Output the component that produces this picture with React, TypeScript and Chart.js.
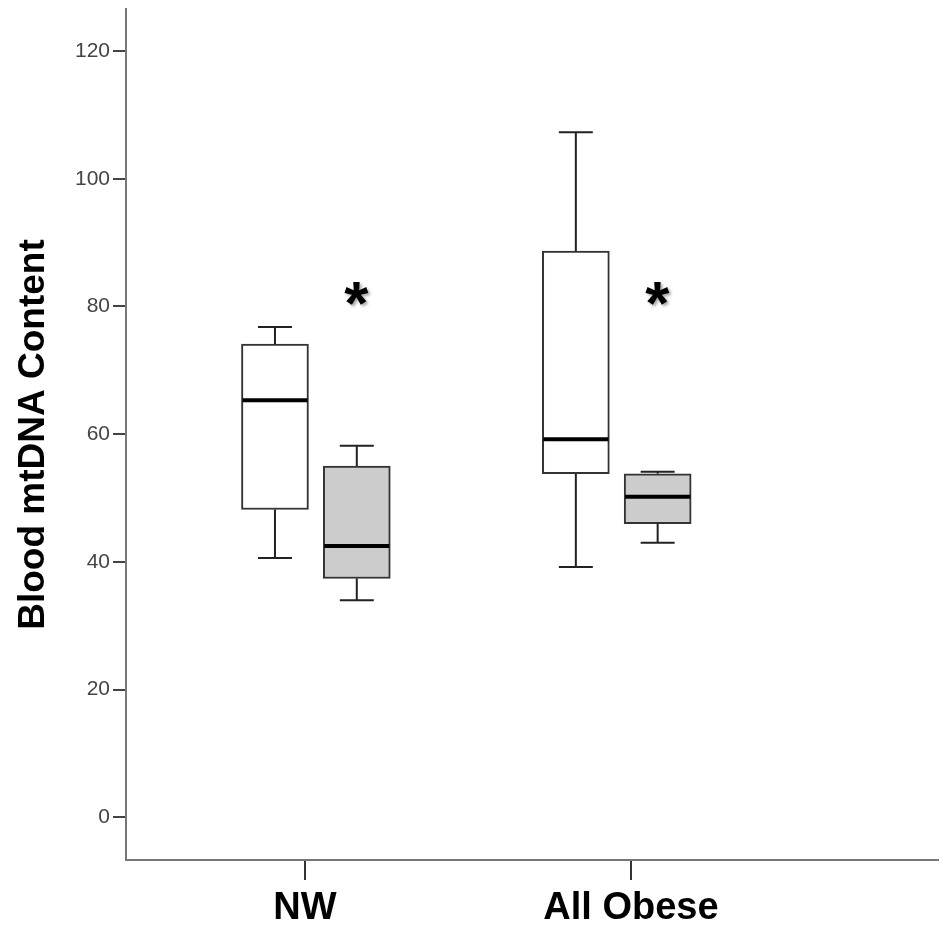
import React, { useEffect, useRef } from "react";
import { Chart, registerables } from "chart.js";

Chart.register(...registerables);

// ---- data ----
const categories = ["NW", "All Obese"];
const yTickValues = [0, 20, 40, 60, 80, 100, 120];

// first group (white boxes)
const whiteMin = [40.6, 39.2];
const whiteQ1 = [48.2, 53.8];
const whiteMedian = [65.3, 59.2];
const whiteQ3 = [74.1, 88.7];
const whiteMax = [76.8, 107.3];

// second group (grey boxes)
const greyMin = [34.0, 43.0];
const greyQ1 = [37.4, 46.0];
const greyMedian = [42.5, 50.2];
const greyQ3 = [55.0, 53.8];
const greyMax = [58.2, 54.1];

// significance markers above grey boxes
const starValue = [82.1, 82.1];

// ---- layout (positions, not data) ----
const categoryPos = [1, 2];
const whiteOffset = [-0.092, -0.169];
const greyOffset = [0.159, 0.082];
const X_MIN = 0.451;
const X_MAX = 2.942;
const Y_MIN = -6.7;
const Y_MAX = 126.6;
const BOX_PX = 67;
const CAP_PX = 34;
const FONT = "'Liberation Sans', Arial, Helvetica, sans-serif";

type Stats = { min: number[]; q1: number[]; med: number[]; q3: number[]; max: number[]; offs: number[] };
const groups: Stats[] = [
  { min: whiteMin, q1: whiteQ1, med: whiteMedian, q3: whiteQ3, max: whiteMax, offs: whiteOffset },
  { min: greyMin, q1: greyQ1, med: greyMedian, q3: greyQ3, max: greyMax, offs: greyOffset },
];

const boxPlugin = {
  id: "boxExtras",
  afterDatasetsDraw(chart: any) {
    const ctx = chart.ctx;
    const xs = chart.scales.x;
    const ys = chart.scales.y;
    ctx.save();
    groups.forEach((g, gi) => {
      categories.forEach((_c, i) => {
        const cx = xs.getPixelForValue(categoryPos[i] + g.offs[i]);
        const yMin = ys.getPixelForValue(g.min[i]);
        const yMax = ys.getPixelForValue(g.max[i]);
        const yQ1 = ys.getPixelForValue(g.q1[i]);
        const yQ3 = ys.getPixelForValue(g.q3[i]);
        const yMed = ys.getPixelForValue(g.med[i]);
        ctx.strokeStyle = "#222";
        ctx.lineWidth = 2;
        ctx.beginPath();
        ctx.moveTo(cx, yQ3);
        ctx.lineTo(cx, yMax);
        ctx.moveTo(cx - CAP_PX / 2, yMax);
        ctx.lineTo(cx + CAP_PX / 2, yMax);
        ctx.moveTo(cx, yQ1);
        ctx.lineTo(cx, yMin);
        ctx.moveTo(cx - CAP_PX / 2, yMin);
        ctx.lineTo(cx + CAP_PX / 2, yMin);
        ctx.stroke();
        ctx.strokeStyle = "#000";
        ctx.lineWidth = 4;
        ctx.beginPath();
        ctx.moveTo(cx - BOX_PX / 2 + 1, yMed);
        ctx.lineTo(cx + BOX_PX / 2 - 1, yMed);
        ctx.stroke();
        if (gi === 1) {
          const sy = ys.getPixelForValue(starValue[i]);
          ctx.font = `bold 62px ${FONT}`;
          const m = ctx.measureText("*");
          const w = m.actualBoundingBoxLeft + m.actualBoundingBoxRight;
          const h = m.actualBoundingBoxAscent + m.actualBoundingBoxDescent;
          ctx.textAlign = "left";
          ctx.textBaseline = "alphabetic";
          ctx.fillStyle = "#000";
          ctx.shadowColor = "rgba(0,0,0,0.35)";
          ctx.shadowBlur = 3;
          ctx.shadowOffsetX = 2;
          ctx.shadowOffsetY = 2;
          ctx.fillText("*", cx - w / 2 + m.actualBoundingBoxLeft, sy - h / 2 + m.actualBoundingBoxAscent);
          ctx.shadowColor = "transparent";
          ctx.shadowBlur = 0;
          ctx.shadowOffsetX = 0;
          ctx.shadowOffsetY = 0;
        }
      });
    });
    ctx.restore();
  },
};

export default function App() {
  const ref = useRef<HTMLCanvasElement | null>(null);
  useEffect(() => {
    if (!ref.current) return;
    const chart = new Chart(ref.current, {
      type: "bar",
      data: {
        datasets: [
          {
            label: "white",
            data: categories.map((_c, i) => ({ x: categoryPos[i] + whiteOffset[i], y: [whiteQ1[i], whiteQ3[i]] })) as any,
            backgroundColor: "#ffffff",
            borderColor: "#333333",
            borderWidth: 2,
            borderSkipped: false,
            barThickness: BOX_PX,
            grouped: false,
          } as any,
          {
            label: "grey",
            data: categories.map((_c, i) => ({ x: categoryPos[i] + greyOffset[i], y: [greyQ1[i], greyQ3[i]] })) as any,
            backgroundColor: "#cccccc",
            borderColor: "#333333",
            borderWidth: 2,
            borderSkipped: false,
            barThickness: BOX_PX,
            grouped: false,
          } as any,
        ],
      },
      options: {
        animation: false,
        responsive: false,
        devicePixelRatio: 1,
        layout: { padding: { top: 9, right: 7, left: 0, bottom: 0 } },
        plugins: { legend: { display: false }, tooltip: { enabled: false } },
        scales: {
          x: {
            type: "linear",
            offset: false,
            min: X_MIN,
            max: X_MAX,
            afterBuildTicks: (s: any) => {
              s.ticks = categoryPos.map((v) => ({ value: v }));
            },
            afterFit: (s: any) => {
              s.height = 78;
              s.paddingLeft = 0;
              s.paddingRight = 0;
            },
            ticks: {
              autoSkip: false,
              maxRotation: 0,
              padding: 6,
              color: "#000",
              font: { family: FONT, size: 38, weight: "bold" },
              callback: (_v: any, i: number) => categories[i],
            },
            grid: { offset: false, drawOnChartArea: false, drawTicks: true, tickLength: 20, color: "#333", lineWidth: 2 },
            border: { display: true, color: "#777", width: 2 },
          } as any,
          y: {
            type: "linear",
            min: Y_MIN,
            max: Y_MAX,
            afterBuildTicks: (s: any) => {
              s.ticks = yTickValues.map((v) => ({ value: v }));
            },
            afterFit: (s: any) => {
              s.width = 126;
              s.paddingTop = 0;
              s.paddingBottom = 0;
            },
            ticks: {
              padding: 3,
              color: "#444",
              font: { family: FONT, size: 21 },
            },
            grid: { drawOnChartArea: false, drawTicks: true, tickLength: 13, color: "#444", lineWidth: 2 },
            border: { display: true, color: "#777", width: 2 },
            title: {
              display: true,
              text: "Blood mtDNA Content",
              color: "#000",
              font: { family: FONT, size: 37, weight: "bold" },
              padding: { top: 12, bottom: 0 },
            },
          } as any,
        },
      },
      plugins: [boxPlugin],
    });
    return () => chart.destroy();
  }, []);
  return (
    <div style={{ position: "absolute", left: 0, top: 0, width: 945, height: 938, background: "#fff" }}>
      <canvas ref={ref} width={945} height={938} style={{ display: "block" }} />
    </div>
  );
}
